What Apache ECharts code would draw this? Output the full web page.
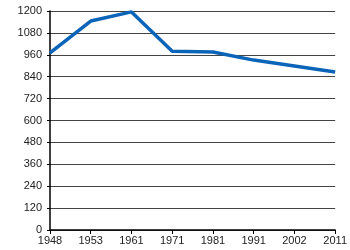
<!DOCTYPE html>
<html><head><meta charset="utf-8">
<script src="https://cdn.jsdelivr.net/npm/echarts@6/dist/echarts.min.js"></script>
<style>html,body{margin:0;padding:0;background:#fff}#c{width:350px;height:250px}</style>
</head><body><div id="c"></div>
<script>
var years = ['1948','1953','1961','1971','1981','1991','2002','2011'];
var values = [970, 1145, 1195, 980, 975, 931, 899, 866];
var yMin = 0, yMax = 1200, yStep = 120;

var chart = echarts.init(document.getElementById('c'), null, {renderer:'canvas'});
chart.setOption({
  animation:false,
  grid:{left:50, right:14, top:11, bottom:20, containLabel:false},
  xAxis:{
    type:'category', data:years, boundaryGap:false,
    axisLine:{lineStyle:{color:'#000', width:1.5}},
    axisTick:{show:true, length:4, lineStyle:{color:'#000'}},
    axisLabel:{color:'#222', fontFamily:'Liberation Sans, Arial', fontSize:11, margin:5},
    splitLine:{show:false}
  },
  yAxis:{
    type:'value', min:yMin, max:yMax, interval:yStep,
    axisLine:{show:true, lineStyle:{color:'#000', width:1.5}},
    axisTick:{show:true, length:3, lineStyle:{color:'#000'}},
    axisLabel:{color:'#222', fontFamily:'Liberation Sans, Arial', fontSize:11, margin:8,
      formatter:function(v){return String(v);}},
    splitLine:{show:true, lineStyle:{color:'#444', width:1}}
  },
  series:[{
    type:'line', data:values, symbol:'none',
    lineStyle:{color:'#0a64b8', width:3.5}
  }]
});
</script></body></html>
